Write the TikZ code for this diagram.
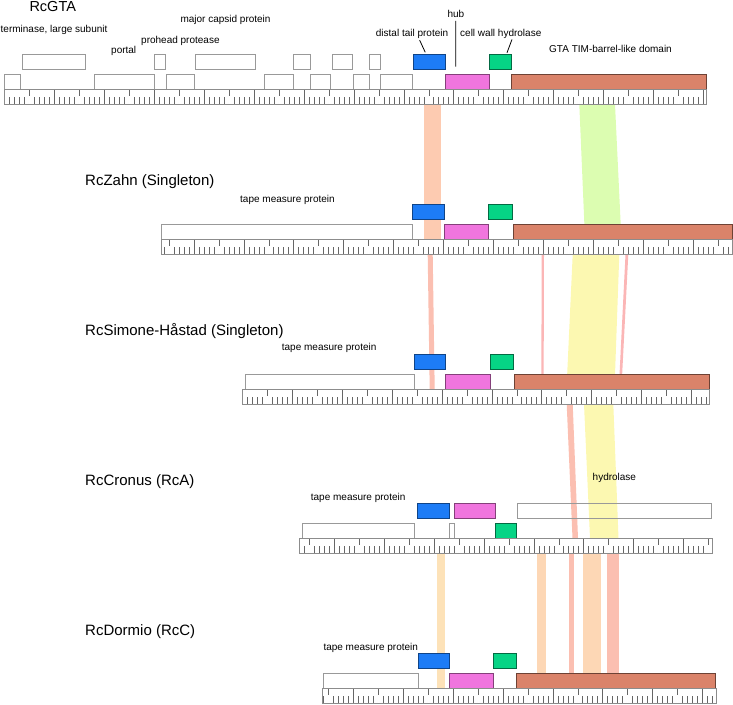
\documentclass[tikz,border=0pt]{standalone}
\usepackage{fontspec}
\setmainfont{Liberation Sans}

\definecolor{gblue}{HTML}{1D7CF6}
\definecolor{gpink}{HTML}{F075DE}
\definecolor{ggreen}{HTML}{06D485}
\definecolor{gbrown}{HTML}{DA836A}
\definecolor{bpeach}{HTML}{FDCBB1}
\definecolor{blime}{HTML}{DCFDB1}
\definecolor{bsalmon}{HTML}{FBBFB1}
\definecolor{bpink}{HTML}{FBB6B6}
\definecolor{byellow}{HTML}{FCF8B1}
\definecolor{borange}{HTML}{FDE2B8}
\definecolor{bapricot}{HTML}{FDD7B5}

% style, name, x from, x to, top
\newcommand{\putgene}[5]{\node[#1, minimum width={(#4-#3)*1pt}] (#2) at (#3,#5) {};}
% colour, top left, top right, bottom left, bottom right, y top, y bottom
\newcommand{\putband}[7]{\fill[#1] (#2,#6) -- (#3,#6) -- (#5,#7) -- (#4,#7) -- cycle;}
% x from, x to, phase of the kb ticks, top
\newcommand{\genruler}[4]{%
  \pgfmathtruncatemacro{\kfirst}{ceil((#1-#3)/4.99)}
  \pgfmathtruncatemacro{\klast}{floor((#2-#3)/4.99)}
  \foreach \k in {\kfirst,...,\klast}{
    \pgfmathsetmacro{\tx}{#3+4.99*\k}
    \pgfmathtruncatemacro{\tm}{mod(\k+1000,10)}
    \ifnum\tm=0 \draw[rtick] (\tx,#4) -- (\tx,#4+15);
    \else\ifnum\tm=5 \draw[rtick] (\tx,#4) -- (\tx,#4+6.5);
    \else \draw[rtick] (\tx,#4+8) -- (\tx,#4+15);
    \fi\fi
  }
  \draw[rulerframe] (#1,#4) rectangle (#2,#4+15);
}

\begin{document}
\begin{tikzpicture}[
    x=1pt, y=-1pt,
    genebox/.style={draw, inner sep=0pt, outer sep=0pt, anchor=north west,
                    minimum height=15pt, line width=0.9pt},
    wgene/.style={genebox, draw=black!40},
    bgene/.style={genebox, fill=gblue, draw=gblue!55!black},
    pgene/.style={genebox, fill=gpink, draw=gpink!55!black},
    ggene/.style={genebox, fill=ggreen, draw=ggreen!50!black},
    rgene/.style={genebox, fill=gbrown, draw=gbrown!50!black},
    rtick/.style={draw=black!60, line width=0.7pt},
    rulerframe/.style={draw=black!45, line width=0.9pt},
    lab/.style={anchor=base west, inner sep=0pt, font=\fontsize{10}{12}\selectfont},
    ttl/.style={anchor=base west, inner sep=0pt, font=\fontsize{15}{18}\selectfont},
    leader/.style={draw=black, line width=0.8pt}
]
\useasboundingbox (0,0) rectangle (733,704);

% homology bands
\putband{bpeach}{424}{441.3}{424}{441.3}{104.3}{239.3}
\putband{blime}{579.3}{615}{585}{621.4}{104.3}{239.3}

\putband{bsalmon}{427.7}{432.7}{429.7}{434.7}{254.3}{389}
\putband{bpink}{541.7}{544}{541.3}{543.6}{254.3}{389}
\putband{byellow}{572.7}{619.3}{566.5}{614.5}{254.3}{389}
\putband{bpink}{625.5}{628.3}{618.8}{621.4}{254.3}{389}

\putband{bsalmon}{566.7}{572.7}{572.5}{578}{404}{538.3}
\putband{byellow}{584}{613.3}{590}{618.5}{404}{538.3}

\foreach \c/\a/\b in {borange/436.5/444.7, bapricot/536.7/546, bsalmon/569.3/574.3,
                      bapricot/582.9/600.7, bsalmon/607.2/618.7}{
  \putband{\c}{\a}{\b}{\a}{\b}{553.3}{688.3}
}

% RcGTA
\node[ttl, font=\fontsize{14.5}{17}\selectfont] (t-gta) at (29.3,11.8) {RcGTA};
\putgene{wgene}{gta-term}{22.3}{85.3}{54.3}
\putgene{wgene}{gta-prot}{154.3}{165.7}{54.3}
\putgene{wgene}{gta-mcp}{195.7}{255.7}{54.3}
\putgene{wgene}{gta-u1}{293.3}{310.3}{54.3}
\putgene{wgene}{gta-u2}{332.7}{352.7}{54.3}
\putgene{wgene}{gta-u3}{369.3}{380.7}{54.3}
\putgene{bgene}{gta-dtp}{413.3}{445}{54.3}
\putgene{ggene}{gta-cwh}{489.3}{511.7}{54.3}
\putgene{wgene}{gta-l1}{4.7}{20.7}{74.3}
\putgene{wgene}{gta-portal}{94.7}{154}{74.3}
\putgene{wgene}{gta-l2}{166.7}{194}{74.3}
\putgene{wgene}{gta-l3}{264}{293.3}{74.3}
\putgene{wgene}{gta-l4}{310}{330}{74.3}
\putgene{wgene}{gta-l5}{353}{369.3}{74.3}
\putgene{wgene}{gta-l6}{380.7}{412.7}{74.3}
\putgene{pgene}{gta-hub}{445.3}{489.3}{74.3}
\putgene{rgene}{gta-tim}{511.7}{706.7}{74.3}
\genruler{4.7}{706.7}{4.7}{89.3}

\node[lab] (l-term) at (0.5,32.3) {terminase, large subunit};
\node[lab] (l-portal) at (111,53) {portal};
\node[lab] (l-prot) at (141,43) {prohead protease};
\node[lab] (l-mcp) at (180.3,23) {major capsid protein};
\node[lab] (l-dtp) at (375.7,36.3) {distal tail protein};
\node[lab] (l-hub) at (447.3,17.3) {hub};
\node[lab] (l-cwh) at (460,36.3) {cell wall hydrolase};
\node[lab] (l-tim) at (549,52.3) {GTA TIM-barrel-like domain};

\coordinate (hubtip) at (455.7,66.7);
\draw[leader] ([xshift=7.6pt,yshift=-1.6pt]l-dtp.south) -- ([xshift=-3.9pt,yshift=2pt]gta-dtp.north);
\draw[leader] ([yshift=-3.4pt]l-hub.south) -- (hubtip);
\draw[leader] ([xshift=11.2pt,yshift=-0.9pt]l-cwh.south) -- ([xshift=6.5pt,yshift=1.6pt]gta-cwh.north);

% RcZahn
\node[ttl] (t-zahn) at (85,185.4) {RcZahn (Singleton)};
\node[lab] (l-zahn-tmp) at (240,202.3) {tape measure protein};
\putgene{bgene}{zahn-dtp}{412.7}{444.7}{204.3}
\putgene{ggene}{zahn-cwh}{488.3}{512.7}{204.3}
\putgene{wgene}{zahn-tmp}{161.7}{412.7}{224.3}
\putgene{pgene}{zahn-hub}{444.7}{488.3}{224.3}
\putgene{rgene}{zahn-tim}{513.3}{732.3}{224.3}
\genruler{161.7}{732.3}{194}{239.3}

% RcSimone-Haastad
\node[ttl] (t-simone) at (85,335.6) {RcSimone-Håstad (Singleton)};
\node[lab] (l-simone-tmp) at (281.7,350.7) {tape measure protein};
\putgene{bgene}{simone-dtp}{414}{445.7}{354}
\putgene{ggene}{simone-cwh}{490.3}{513.3}{354}
\putgene{wgene}{simone-tmp}{245}{414}{374}
\putgene{pgene}{simone-hub}{445.7}{490.3}{374}
\putgene{rgene}{simone-tim}{514.3}{709.3}{374}
\genruler{242.3}{709.3}{292.3}{389}

% RcCronus
\node[ttl] (t-cronus) at (85,485.5) {RcCronus (RcA)};
\node[lab] (l-cronus-tmp) at (310.7,500.7) {tape measure protein};
\node[lab] (l-cronus-hyd) at (592.5,480.7) {hydrolase};
\putgene{bgene}{cronus-dtp}{417.3}{449.3}{503.3}
\putgene{pgene}{cronus-hub}{454.7}{495.7}{503.3}
\putgene{wgene}{cronus-hyd}{517.3}{711.7}{503.3}
\putgene{wgene}{cronus-tmp}{302}{414.3}{523.3}
\putgene{wgene}{cronus-u1}{449.3}{454.3}{523.3}
\putgene{ggene}{cronus-cwh}{495.7}{516.7}{523.3}
\genruler{299.3}{712.3}{334.3}{538.3}

% RcDormio
\node[ttl] (t-dormio) at (85,635.5) {RcDormio (RcC)};
\node[lab] (l-dormio-tmp) at (323.3,650.7) {tape measure protein};
\putgene{bgene}{dormio-dtp}{418.3}{449.3}{653.3}
\putgene{ggene}{dormio-cwh}{493.3}{516}{653.3}
\putgene{wgene}{dormio-tmp}{323.3}{418.3}{673.3}
\putgene{pgene}{dormio-hub}{449.3}{493.3}{673.3}
\putgene{rgene}{dormio-tim}{516.7}{715}{673.3}
\genruler{322.7}{716.7}{353.3}{688.3}

\end{tikzpicture}
\end{document}
